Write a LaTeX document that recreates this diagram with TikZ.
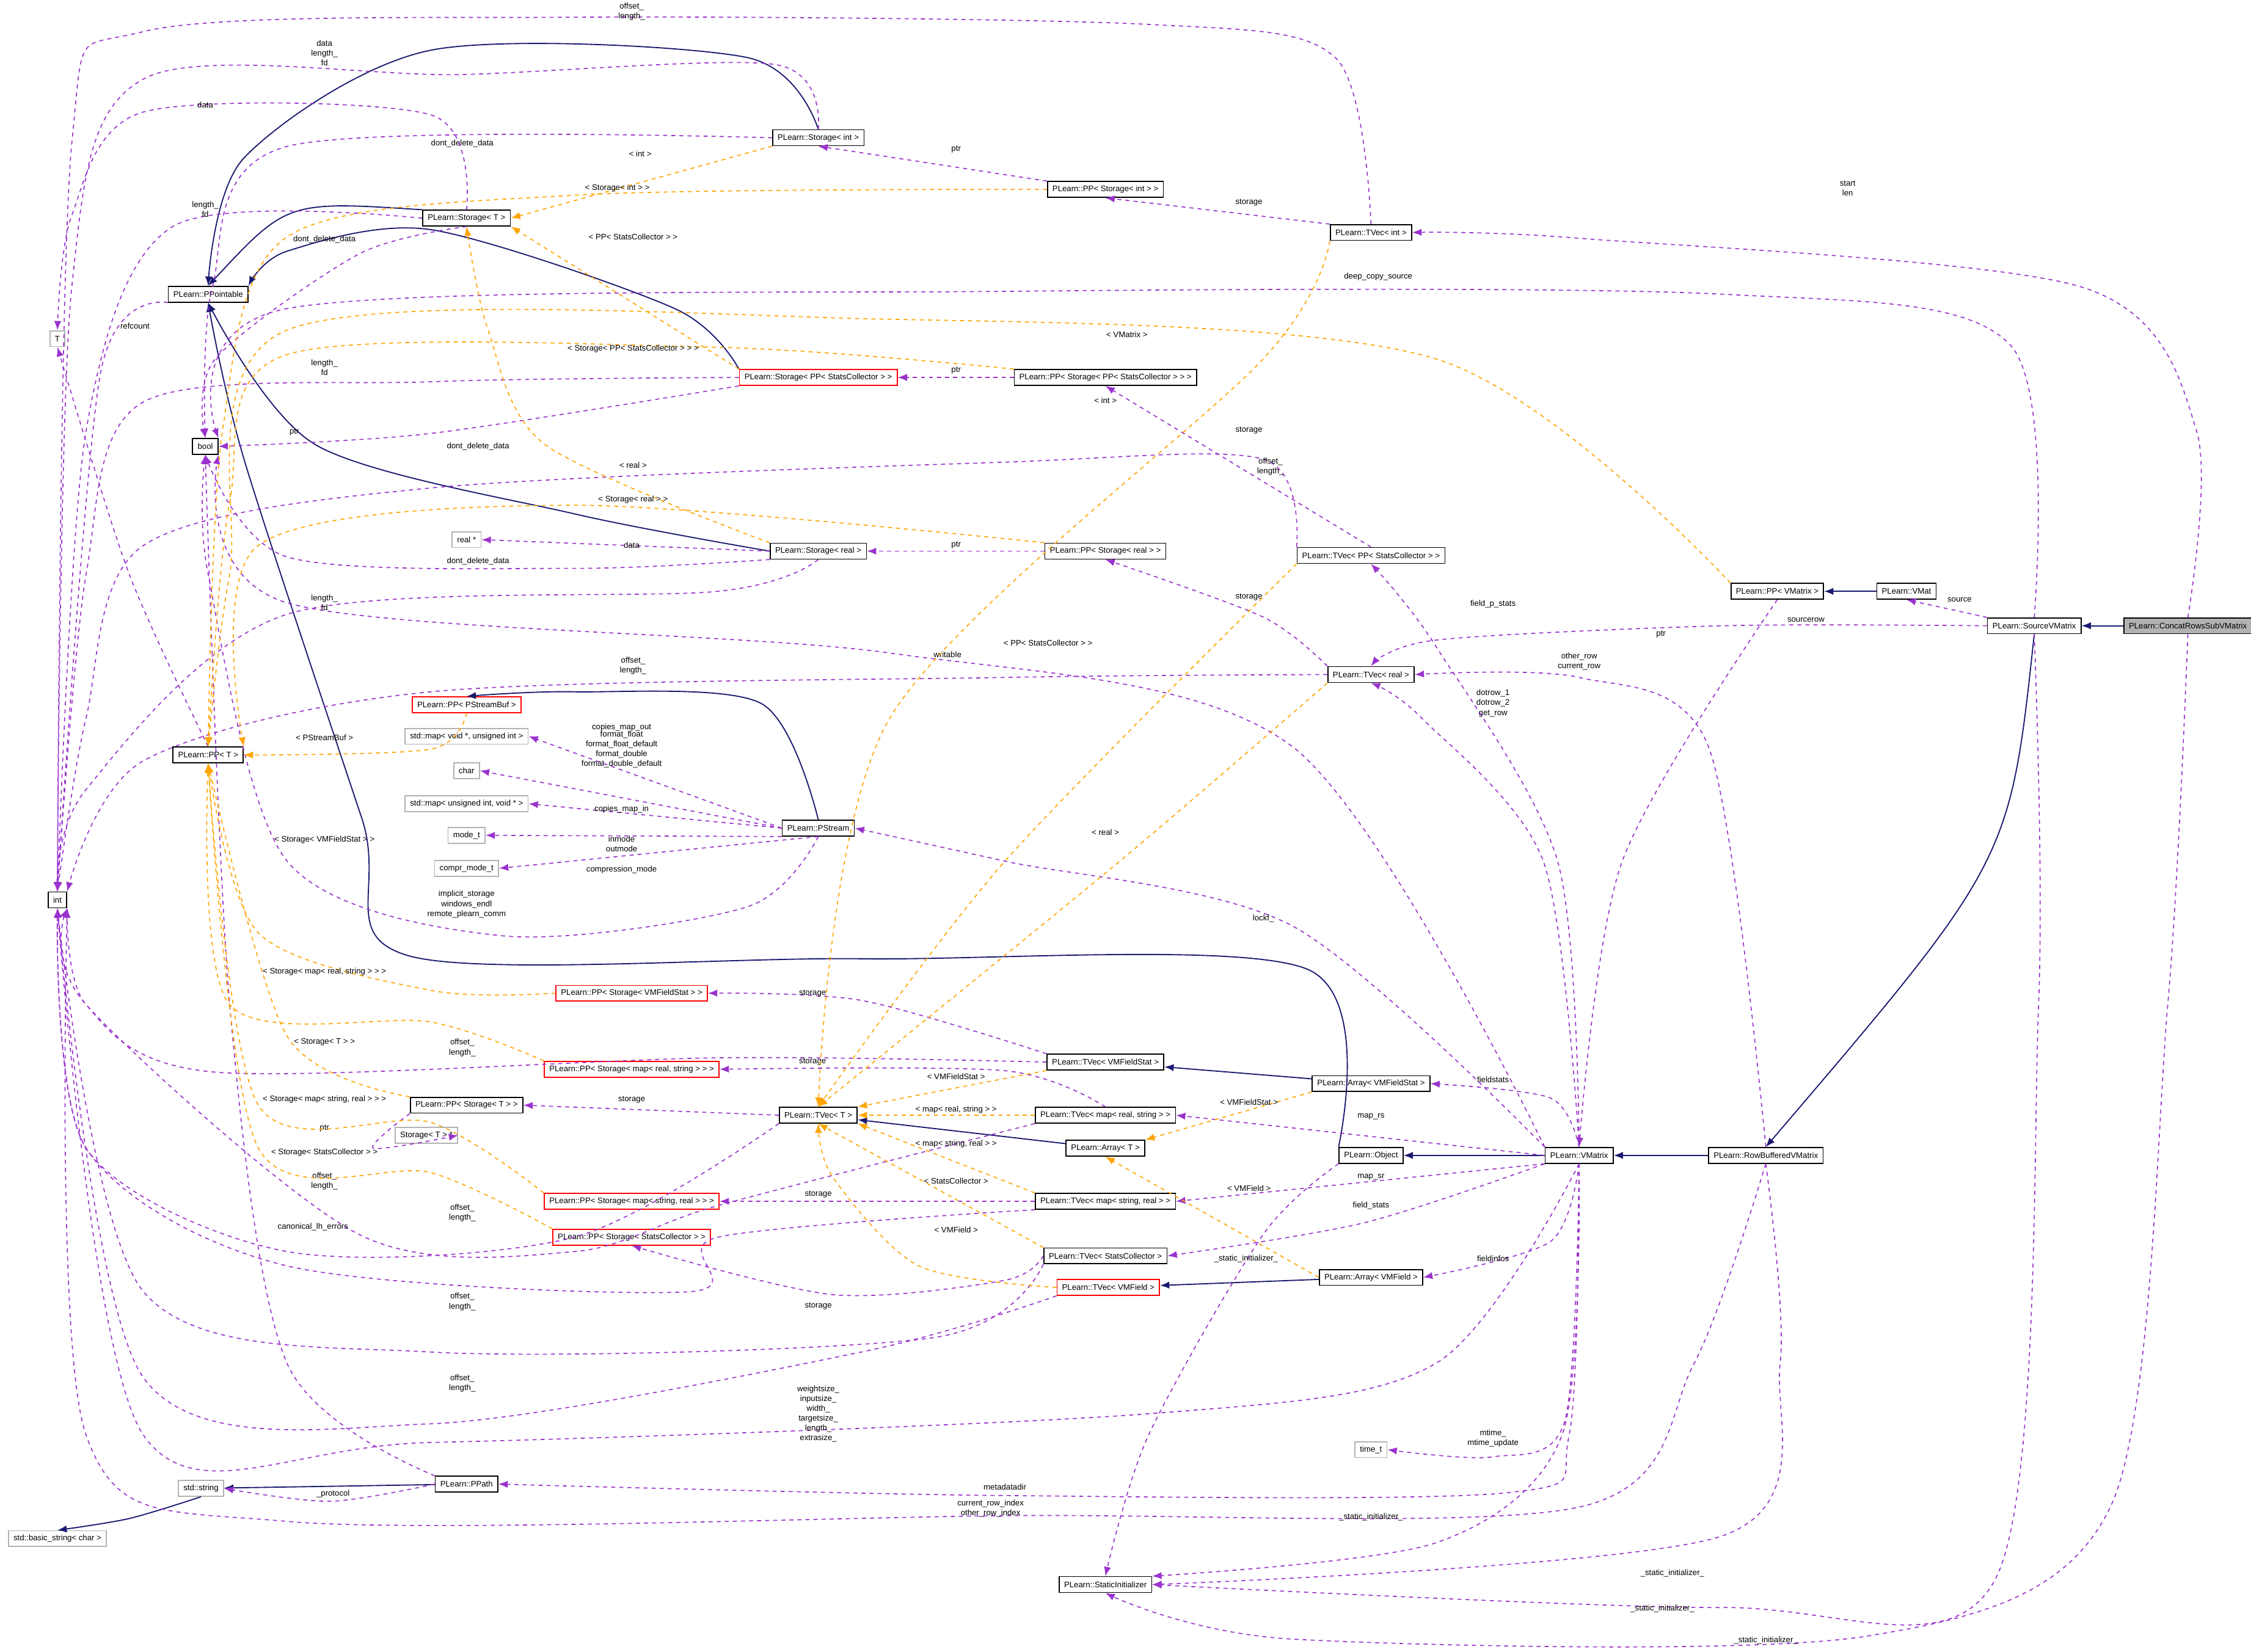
\documentclass[tikz,border=0pt]{standalone}
\usepackage{fontspec}
\setmainfont{Liberation Sans}
\usetikzlibrary{arrows.meta}
\definecolor{inhcol}{HTML}{191970}
\definecolor{usecol}{HTML}{9A32CD}
\definecolor{tplcol}{HTML}{FFA500}
\begin{document}
\begin{tikzpicture}[
    x=0.02cm, y=-0.02cm,
    cls/.style={draw=black, fill=white, line width=0.4pt, font=\fontsize{3.2}{3.9}\selectfont, inner xsep=2pt, inner ysep=0pt, minimum height=0.22cm},
    redcls/.style={cls, draw=red},
    extcls/.style={cls, draw=gray!60},
    curcls/.style={cls, fill=gray!60},
    inh/.style={draw=inhcol, line width=0.45pt, -{Latex[length=1.3mm,width=1mm]}},
    use/.style={draw=usecol, line width=0.4pt, dash pattern=on 1.6pt off 1.6pt, -{Latex[length=1.3mm,width=1mm]}},
    tpl/.style={draw=tplcol, line width=0.4pt, dash pattern=on 1.6pt off 1.6pt, -{Latex[length=1.3mm,width=1mm]}},
    lbl/.style={font=\fontsize{3.2}{3.9}\selectfont, align=center, inner sep=0pt, text=black}
]
    \useasboundingbox (0,0) rectangle (1568,1151);

    % Classes on the right
    \node[curcls] (crsv) at (1524,436) {PLearn::ConcatRowsSubVMatrix};
    \node[cls] (svm) at (1417,436) {PLearn::SourceVMatrix};
    \node[cls] (vmat) at (1328,412) {PLearn::VMat};
    \node[cls] (ppvm) at (1238,412) {PLearn::PP< VMatrix >};
    \node[cls] (rbvm) at (1230,805) {PLearn::RowBufferedVMatrix};
    \node[cls] (vmx) at (1100,805) {PLearn::VMatrix};
    \node[cls] (obj) at (955,805) {PLearn::Object};
    \node[cls] (avfs) at (955,755) {PLearn::Array< VMFieldStat >};
    \node[cls] (avf) at (955,890) {PLearn::Array< VMField >};
    \node[extcls] (timet) at (955,1010) {time\_t};
    \node[cls] (stinit) at (770,1104) {PLearn::StaticInitializer};

    % TVec family
    \node[redcls] (tvvf) at (772,897) {PLearn::TVec< VMField >};
    \node[cls] (tvsc) at (770,875) {PLearn::TVec< StatsCollector >};
    \node[cls] (tvmsr) at (770,837) {PLearn::TVec< map< string, real > >};
    \node[cls] (arrt) at (770,800) {PLearn::Array< T >};
    \node[cls] (tvmrs) at (770,777) {PLearn::TVec< map< real, string > >};
    \node[cls] (tvvfs) at (770,740) {PLearn::TVec< VMFieldStat >};
    \node[cls] (tvt) at (570,777) {PLearn::TVec< T >};
    \node[cls] (ppst) at (325,770) {PLearn::PP< Storage< T > >};
    \node[extcls] (stTp) at (297,791) {Storage< T > *};
    \node[redcls] (ppsmsr) at (440,837) {PLearn::PP< Storage< map< string, real > > >};
    \node[redcls] (ppssc) at (440,862) {PLearn::PP< Storage< StatsCollector > >};
    \node[redcls] (ppsmrs) at (440,745) {PLearn::PP< Storage< map< real, string > > >};
    \node[redcls] (ppsvfs) at (440,692) {PLearn::PP< Storage< VMFieldStat > >};

    % PStream and its members
    \node[cls] (pstream) at (570,577) {PLearn::PStream};
    \node[redcls] (pppsb) at (325,491) {PLearn::PP< PStreamBuf >};
    \node[extcls] (mapvu) at (325,513) {std::map< void *, unsigned int >};
    \node[extcls] (chr) at (325,537) {char};
    \node[extcls] (mapuv) at (325,560) {std::map< unsigned int, void * >};
    \node[extcls] (modet) at (325,582) {mode\_t};
    \node[extcls] (cmt) at (325,605) {compr\_mode\_t};

    % Storage family
    \node[cls] (tvreal) at (955,470) {PLearn::TVec< real >};
    \node[cls] (tvppsc) at (955,387) {PLearn::TVec< PP< StatsCollector > >};
    \node[cls] (psreal) at (770,384) {PLearn::PP< Storage< real > >};
    \node[cls] (streal) at (570,384) {PLearn::Storage< real >};
    \node[extcls] (realp) at (325,376) {real *};
    \node[redcls] (stppsc) at (570,263) {PLearn::Storage< PP< StatsCollector > >};
    \node[cls] (ppsppsc) at (770,263) {PLearn::PP< Storage< PP< StatsCollector > > >};
    \node[cls] (tvint) at (955,162) {PLearn::TVec< int >};
    \node[cls] (pstint) at (770,132) {PLearn::PP< Storage< int > >};
    \node[cls] (stint) at (570,96) {PLearn::Storage< int >};
    \node[cls] (stt) at (325,152) {PLearn::Storage< T >};

    % Left column
    \node[cls] (ppt) at (145,205) {PLearn::PPointable};
    \node[cls] (nbool) at (143,311) {bool};
    \node[extcls] (nT) at (40,236) {T};
    \node[cls] (pptt) at (145,526) {PLearn::PP< T >};
    \node[cls] (nint) at (40,627) {int};
    \node[extcls] (stds) at (140,1037) {std::string};
    \node[cls] (ppath) at (325,1034) {PLearn::PPath};
    \node[extcls] (bstr) at (40,1072) {std::basic\_string< char >};

    % Inheritance
    \draw[inh] (crsv) -- (svm);
    \draw[inh] (svm.south) .. controls (1400,600) .. (rbvm.north);
    \draw[inh] (rbvm) -- (vmx);
    \draw[inh] (vmx) -- (obj);
    \draw[inh] plot[smooth] coordinates {(obj.north west) (910,675) (600,668) (285,666) (252,570) (170,320) (ppt.south)};
    \draw[inh] (vmat) -- (ppvm);
    \draw[inh] (avfs) -- (tvvfs);
    \draw[inh] (avf) -- (tvvf);
    \draw[inh] (arrt) -- (tvt);
    \draw[inh] plot[smooth] coordinates {(stint.north) (520,40) (300,35) (170,110) (ppt.north)};
    \draw[inh] (stt.north west) .. controls (200,140) .. (ppt.north);
    \draw[inh] plot[smooth] coordinates {(stppsc.north west) (470,215) (300,160) (200,175) (ppt.north east)};
    \draw[inh] plot[smooth] coordinates {(streal.west) (400,358) (220,310) (ppt.south)};
    \draw[inh] plot[smooth] coordinates {(pstream.north) (530,490) (400,482) (pppsb.north)};
    \draw[inh] (ppath) -- (stds);
    \draw[inh] plot[smooth] coordinates {(stds.south) (90,1058) (bstr.north)};

    % Members
    \draw[use] plot[smooth] coordinates {(crsv.north) (1530,300) (1450,200) (1100,166) (tvint.east)} node[lbl] at (1287,131) {start\\len};
    \draw[use] plot[smooth] coordinates {(crsv.south) (1510,700) (1470,1050) (1300,1140) (900,1142) (stinit.south)} node[lbl] at (1230,1143) {\_static\_initializer\_};
    \draw[use] (svm.north west) -- (vmat.south) node[lbl] at (1365,418) {source};
    \draw[use] plot[smooth] coordinates {(svm.west) (1200,436) (1000,446) (tvreal.north)} node[lbl] at (1258,432) {sourcerow};
    \draw[use] plot[smooth] coordinates {(svm.north) (1400,240) (1200,205) (700,203) (200,215) (nbool.north east)} node[lbl] at (960,193) {deep\_copy\_source};
    \draw[use] plot[smooth] coordinates {(svm.south) (1420,700) (1390,1100) (1200,1120) (stinit.east)} node[lbl] at (1158,1121) {\_static\_initializer\_};
    \draw[use] plot[smooth] coordinates {(rbvm.north) (1190,520) (1100,472) (tvreal.east)} node[lbl] at (1100,461) {other\_row\\current\_row};
    \draw[use] plot[smooth] coordinates {(rbvm.south) (1180,950) (1100,1050) (700,1056) (200,1060) (60,1000) (nint.south east)} node[lbl] at (690,1051) {current\_row\_index\\other\_row\_index};
    \draw[use] plot[smooth] coordinates {(rbvm.south) (1240,950) (1200,1070) (stinit.east)} node[lbl] at (1165,1096) {\_static\_initializer\_};
    \draw[use] plot[smooth] coordinates {(vmx.north) (1075,600) (990,500) (tvreal.south)} node[lbl] at (1040,490) {dotrow\_1\\dotrow\_2\\get\_row};
    \draw[use] plot[smooth] coordinates {(vmx.north) (1085,600) (1000,450) (tvppsc.south)} node[lbl] at (1040,421) {field\_p\_stats};
    \draw[use] plot[smooth] coordinates {(ppvm.south) (1130,600) (vmx.north)} node[lbl] at (1157,442) {ptr};
    \draw[use] plot[smooth] coordinates {(vmx.north west) (900,520) (620,455) (200,420) (nbool.south east)} node[lbl] at (660,456) {writable};
    \draw[use] plot[smooth] coordinates {(vmx.north west) (900,645) (700,600) (pstream.east)} node[lbl] at (880,640) {lockf\_};
    \draw[use] plot[smooth] coordinates {(vmx.north) (1080,765) (avfs.east)} node[lbl] at (1040,752) {fieldstats};
    \draw[use] (vmx.west) -- (tvmrs.east) node[lbl] at (955,778) {map\_rs};
    \draw[use] (vmx.south west) -- (tvmsr.east) node[lbl] at (955,820) {map\_sr};
    \draw[use] plot[smooth] coordinates {(vmx.south west) (950,852) (tvsc.east)} node[lbl] at (955,840) {field\_stats};
    \draw[use] plot[smooth] coordinates {(vmx.south) (1080,865) (avf.east)} node[lbl] at (1040,877) {fieldinfos};
    \draw[use] plot[smooth] coordinates {(vmx.south) (1090,990) (1040,1015) (timet.east)} node[lbl] at (1040,1002) {mtime\_\\mtime\_update};
    \draw[use] plot[smooth] coordinates {(vmx.south) (1093,1000) (1050,1040) (700,1042) (ppath.east)} node[lbl] at (700,1036) {metadatadir};
    \draw[use] plot[smooth] coordinates {(vmx.south) (1000,950) (800,985) (300,1005) (100,1000) (nint.south)} node[lbl] at (570,985) {weightsize\_\\inputsize\_\\width\_\\targetsize\_\\length\_\\extrasize\_};
    \draw[use] plot[smooth] coordinates {(vmx.south) (1088,1000) (1000,1075) (stinit.north east)} node[lbl] at (955,1057) {\_static\_initializer\_};
    \draw[use] plot[smooth] coordinates {(obj.south west) (880,860) (800,1000) (stinit.north)} node[lbl] at (868,877) {\_static\_initializer\_};
    \draw[use] (tvint.north west) -- (pstint.south) node[lbl] at (870,141) {storage};
    \draw[use] plot[smooth] coordinates {(tvint.north) (930,40) (800,17) (400,12) (100,22) (50,100) (nint.north)} node[lbl] at (440,8) {offset\_\\length\_};
    \draw[use] (pstint.north west) -- (stint.south) node[lbl] at (666,104) {ptr};
    \draw[use] plot[smooth] coordinates {(stint.north) (540,45) (320,52) (100,55) (50,200) (nint.north)} node[lbl] at (226,37) {data\\length\_\\fd};
    \draw[use] plot[smooth] coordinates {(stint.west) (200,102) (148,200) (nbool.north)} node[lbl] at (322,100) {dont\_delete\_data};
    \draw[use] plot[smooth] coordinates {(stt.north) (300,80) (100,78) (50,150) (nT.north)} node[lbl] at (143,73) {data};
    \draw[use] plot[smooth] coordinates {(stt.west) (120,158) (60,300) (nint.north)} node[lbl] at (143,146) {length\_\\fd};
    \draw[use] plot[smooth] coordinates {(stt.south) (250,177) (150,250) (nbool.north)} node[lbl] at (226,167) {dont\_delete\_data};
    \draw[use] plot[smooth] coordinates {(stppsc.west) (300,266) (100,280) (60,400) (nint.north)} node[lbl] at (226,256) {length\_\\fd};
    \draw[use] plot[smooth] coordinates {(stppsc.south west) (300,302) (nbool.east)} node[lbl] at (333,311) {dont\_delete\_data};
    \draw[use] (ppsppsc.west) -- (stppsc.east) node[lbl] at (666,258) {ptr};
    \draw[use] (tvppsc.north) -- (ppsppsc.south) node[lbl] at (870,300) {storage};
    \draw[use] plot[smooth] coordinates {(tvppsc.north west) (880,320) (700,322) (300,340) (100,380) (60,500) (nint.north)} node[lbl] at (885,325) {offset\_\\length\_};
    \draw[use] (streal.west) -- (realp.east) node[lbl] at (440,380) {data};
    \draw[use] plot[smooth] coordinates {(streal.south west) (400,396) (200,388) (nbool.south)} node[lbl] at (333,391) {dont\_delete\_data};
    \draw[use] plot[smooth] coordinates {(streal.south) (500,412) (200,428) (60,550) (nint.north)} node[lbl] at (226,420) {length\_\\fd};
    \draw[use] (psreal.west) -- (streal.east) node[lbl] at (666,380) {ptr};
    \draw[use] plot[smooth] coordinates {(tvreal.north west) (880,430) (psreal.south)} node[lbl] at (870,416) {storage};
    \draw[use] plot[smooth] coordinates {(tvreal.west) (700,472) (300,482) (100,530) (nint.north east)} node[lbl] at (441,464) {offset\_\\length\_};
    \draw[use] plot[smooth] coordinates {(pptt.north) (90,400) (nT.south)} node[lbl] at (205,301) {ptr};
    \draw[use] plot[smooth] coordinates {(ppt.south west) (70,260) (nint.north)} node[lbl] at (94,227) {refcount};
    \draw[use] (pstream.west) -- (mapvu.east) node[lbl] at (433,507) {copies\_map\_out};
    \draw[use] (pstream.west) -- (chr.east) node[lbl] at (433,522) {format\_float\\format\_float\_default\\format\_double\\format\_double\_default};
    \draw[use] (pstream.west) -- (mapuv.east) node[lbl] at (433,564) {copies\_map\_in};
    \draw[use] (pstream.south west) -- (modet.east) node[lbl] at (433,588) {inmode\\outmode};
    \draw[use] (pstream.south) -- (cmt.east) node[lbl] at (433,606) {compression\_mode};
    \draw[use] plot[smooth] coordinates {(pstream.south) (520,632) (350,652) (200,600) (145,400) (nbool.south)} node[lbl] at (325,630) {implicit\_storage\\windows\_endl\\remote\_plearn\_comm};
    \draw[use] plot[smooth] coordinates {(tvvfs.north west) (600,697) (ppsvfs.east)} node[lbl] at (566,692) {storage};
    \draw[use] plot[smooth] coordinates {(tvvfs.west) (500,737) (150,747) (60,700) (nint.south east)} node[lbl] at (322,730) {offset\_\\length\_};
    \draw[use] plot[smooth] coordinates {(tvmrs.north) (700,746) (ppsmrs.east)} node[lbl] at (566,740) {storage};
    \draw[use] plot[smooth] coordinates {(tvmrs.south west) (500,840) (400,872) (250,860) (60,700) (nint.south east)} node[lbl] at (218,855) {canonical\_lh\_errors};
    \draw[use] (tvt.west) -- (ppst.east) node[lbl] at (440,766) {storage};
    \draw[use] plot[smooth] coordinates {(tvt.south west) (400,862) (200,872) (60,800) (nint.south)} node[lbl] at (226,823) {offset\_\\length\_};
    \draw[use] plot[smooth] coordinates {(ppst.south west) (260,800) (stTp.east)} node[lbl] at (226,786) {ptr};
    \draw[use] (tvmsr.west) -- (ppsmsr.east) node[lbl] at (570,832) {storage};
    \draw[use] plot[smooth] coordinates {(tvmsr.south west) (500,862) (480,900) (200,882) (60,800) (nint.south)} node[lbl] at (322,845) {offset\_\\length\_};
    \draw[use] plot[smooth] coordinates {(tvsc.west) (700,892) (580,902) (ppssc.south)} node[lbl] at (570,910) {storage};
    \draw[use] plot[smooth] coordinates {(tvsc.south west) (650,932) (300,942) (100,900) (nint.south)} node[lbl] at (322,907) {offset\_\\length\_};
    \draw[use] plot[smooth] coordinates {(tvvf.south west) (600,942) (300,992) (100,960) (nint.south)} node[lbl] at (322,964) {offset\_\\length\_};
    \draw[use] plot[smooth] coordinates {(ppath.west) (230,1046) (stds.east)} node[lbl] at (232,1041) {\_protocol};
    \draw[use] plot[smooth] coordinates {(ppath.north west) (200,950) (160,700) (nbool.south)};

    % Template instances
    \draw[tpl] plot[smooth] coordinates {(tvvf.west) (640,882) (580,820) (tvt.south)} node[lbl] at (666,857) {< VMField >};
    \draw[tpl] (tvsc.north west) -- (tvt.south) node[lbl] at (666,823) {< StatsCollector >};
    \draw[tpl] (tvmsr.north west) -- (tvt.south east) node[lbl] at (666,797) {< map< string, real > >};
    \draw[tpl] (tvmrs.west) -- (tvt.east) node[lbl] at (666,773) {< map< real, string > >};
    \draw[tpl] (tvvfs.south west) -- (tvt.north east) node[lbl] at (666,750) {< VMFieldStat >};
    \draw[tpl] plot[smooth] coordinates {(tvreal.south west) (780,600) (tvt.north)} node[lbl] at (770,580) {< real >};
    \draw[tpl] plot[smooth] coordinates {(tvppsc.south west) (700,600) (tvt.north)} node[lbl] at (730,448) {< PP< StatsCollector > >};
    \draw[tpl] plot[smooth] coordinates {(tvint.south west) (880,250) (620,500) (tvt.north)} node[lbl] at (770,279) {< int >};
    \draw[tpl] (avfs.south west) -- (arrt.north east) node[lbl] at (870,768) {< VMFieldStat >};
    \draw[tpl] (avf.west) -- (arrt.south) node[lbl] at (870,828) {< VMField >};
    \draw[tpl] (stint.south west) -- (stt.east) node[lbl] at (446,107) {< int >};
    \draw[tpl] (stppsc.north west) -- (stt.south east) node[lbl] at (441,165) {< PP< StatsCollector > >};
    \draw[tpl] plot[smooth] coordinates {(streal.north west) (380,310) (340,230) (stt.south)} node[lbl] at (441,324) {< real >};
    \draw[tpl] plot[smooth] coordinates {(pstint.west) (400,136) (200,165) (155,300) (pptt.north)} node[lbl] at (430,131) {< Storage< int > >};
    \draw[tpl] plot[smooth] coordinates {(ppsppsc.north west) (500,242) (200,247) (160,350) (pptt.north)} node[lbl] at (441,243) {< Storage< PP< StatsCollector > > >};
    \draw[tpl] plot[smooth] coordinates {(psreal.north west) (400,352) (180,380) (pptt.north east)} node[lbl] at (441,348) {< Storage< real > >};
    \draw[tpl] plot[smooth] coordinates {(ppvm.north west) (1000,250) (600,222) (200,230) (160,400) (pptt.north)} node[lbl] at (785,233) {< VMatrix >};
    \draw[tpl] plot[smooth] coordinates {(pppsb.south) (300,522) (pptt.east)} node[lbl] at (226,514) {< PStreamBuf >};
    \draw[tpl] plot[smooth] coordinates {(ppsvfs.west) (300,690) (180,650) (pptt.south)} node[lbl] at (226,585) {< Storage< VMFieldStat > >};
    \draw[tpl] plot[smooth] coordinates {(ppsmrs.north west) (300,712) (160,700) (pptt.south)} node[lbl] at (226,677) {< Storage< map< real, string > > >};
    \draw[tpl] plot[smooth] coordinates {(ppst.north west) (200,722) (pptt.south)} node[lbl] at (226,726) {< Storage< T > >};
    \draw[tpl] plot[smooth] coordinates {(ppsmsr.north west) (300,782) (180,770) (pptt.south)} node[lbl] at (226,766) {< Storage< map< string, real > > >};
    \draw[tpl] plot[smooth] coordinates {(ppssc.north west) (300,817) (180,800) (pptt.south)} node[lbl] at (226,803) {< Storage< StatsCollector > >};
\end{tikzpicture}
\end{document}
